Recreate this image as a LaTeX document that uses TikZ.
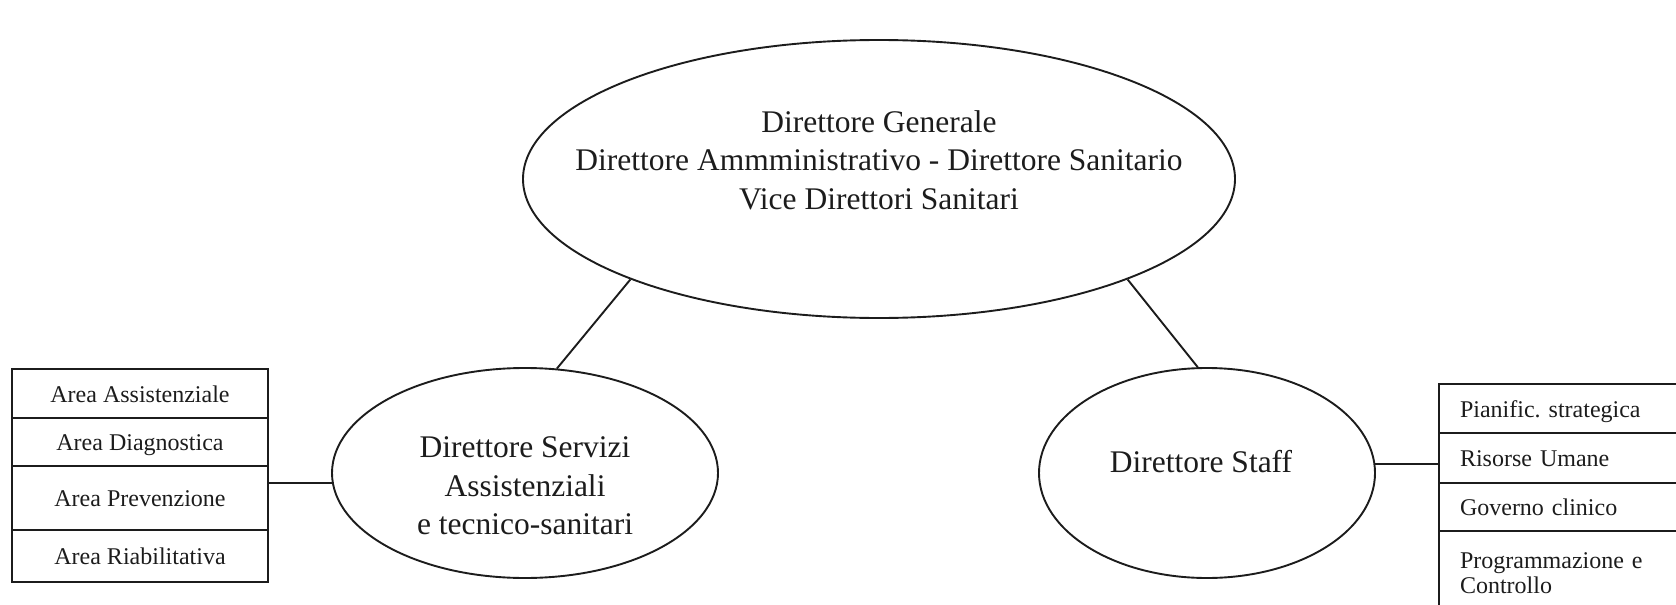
\documentclass[tikz,border=0pt]{standalone}
\usepackage{fontspec}
\setmainfont{Liberation Serif}
\usepackage{tikz}
\usetikzlibrary{shapes,positioning}
\definecolor{InkBlack}{HTML}{1C1C1C}

\begin{document}
\begin{tikzpicture}[x=1pt, y=-1pt, InkBlack,
        oval/.style={draw, ellipse, line width=1.9pt, inner sep=0pt},
        ovaltext/.style={align=center, font=\fontsize{31.5}{38.5}\selectfont},
        leftrow/.style={draw, line width=2.2pt, minimum width=256pt, inner sep=0pt, outer sep=0pt,
                text height=17pt, text depth=0pt, font=\fontsize{24}{25}\selectfont},
        rightrow/.style={draw, line width=2.2pt, text width=209pt, inner xsep=21pt, inner ysep=0pt,
                outer sep=0pt, align=left, text height=17pt, text depth=0pt, font=\fontsize{24}{25}\selectfont}]
        \useasboundingbox (0,0) rectangle (1676,605);

        \node[oval, minimum width=712pt, minimum height=278pt] (dg) at (879,179) {};
        \node[ovaltext] (dgtext) at (879,160) {Direttore Generale\\Direttore Ammministrativo - Direttore Sanitario\\Vice Direttori Sanitari};

        \node[oval, minimum width=386pt, minimum height=210pt] (srv) at (525,473) {};
        \node[ovaltext] (srvtext) at (525,486) {Direttore Servizi\\Assistenziali\\e tecnico-sanitari};

        \node[oval, minimum width=336pt, minimum height=210pt] (staff) at (1207,473) {};
        \node[ovaltext] (stafftext) at (1201,462) {Direttore Staff};

        \node[leftrow, minimum height=49pt] (assist) at (140,393.5) {Area Assistenziale};
        \node[leftrow, minimum height=48pt, below=0pt of assist] (diagn) {Area Diagnostica};
        \node[leftrow, minimum height=64pt, below=0pt of diagn] (prev) {Area Prevenzione};
        \node[leftrow, minimum height=52pt, below=0pt of prev] (riab) {Area Riabilitativa};

        \node[rightrow, minimum height=49pt] (pian) at (1564.5,408.5) {Pianific.\ strategica};
        \node[rightrow, minimum height=50pt, below=0pt of pian] (risorse) {Risorse Umane};
        \node[rightrow, minimum height=48pt, below=0pt of risorse] (governo) {Governo clinico};
        \node[rightrow, minimum height=82pt, text depth=25pt, below=0pt of governo] (progr) {Programmazione e\\Controllo};

        \draw[line width=1.9pt] (dg.202) -- (srv.73);
        \draw[line width=1.9pt] (dg.338) -- (staff.95);
        \draw[line width=2pt] (srv.183) -- (srv.183 -| prev.east);
        \draw[line width=2pt] (staff.3) -- (staff.3 -| risorse.west);
\end{tikzpicture}
\end{document}
